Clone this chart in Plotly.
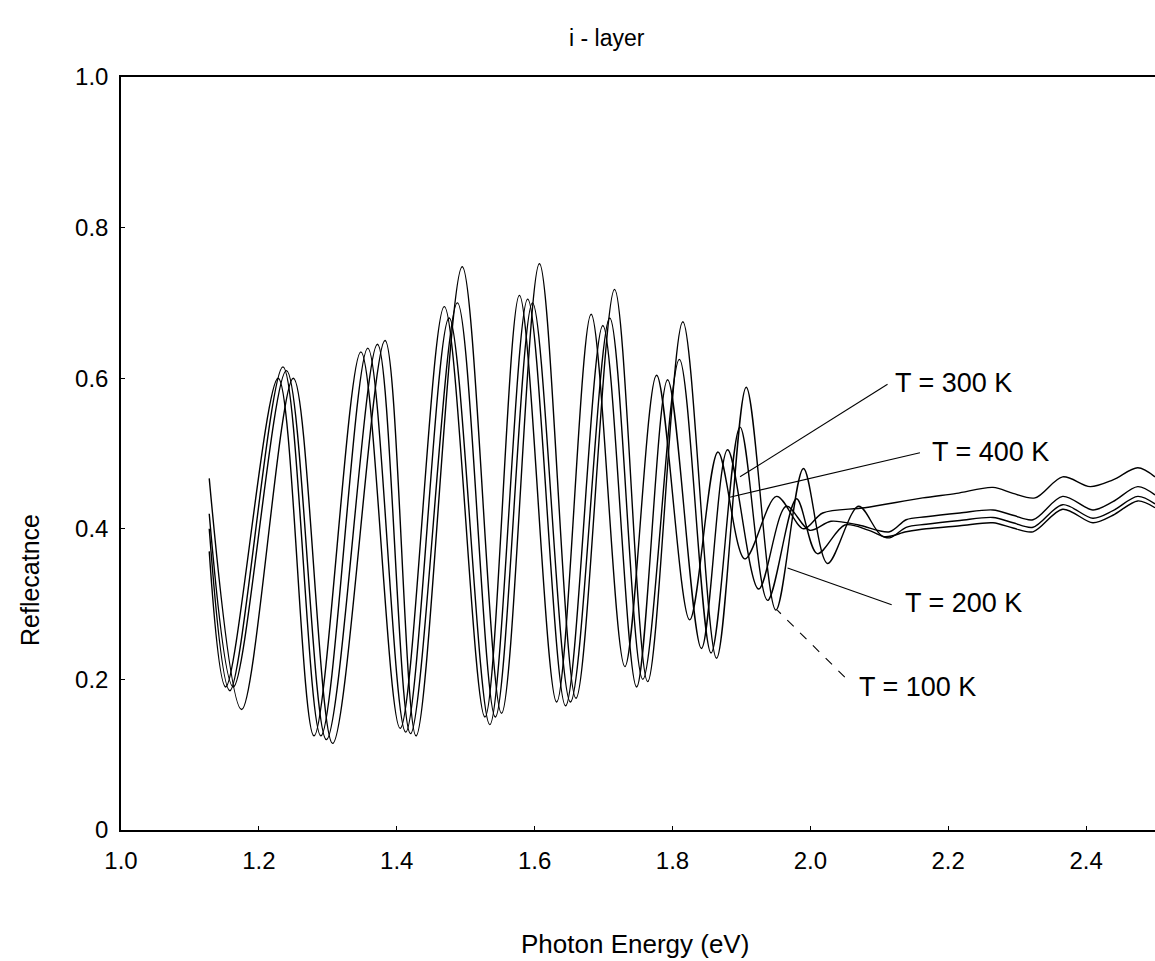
import plotly.graph_objects as go

# ---------------- data ----------------
x_400 = [1.128, 1.152, 1.228, 1.280, 1.348, 1.405, 1.469, 1.528, 1.578, 1.632, 1.682, 1.731,
         1.777, 1.825, 1.866, 1.905, 1.951, 1.990, 2.018, 2.079, 2.163, 2.212, 2.265, 2.294,
         2.326, 2.366, 2.406, 2.439, 2.475, 2.500]
y_400 = [0.370, 0.190, 0.600, 0.125, 0.635, 0.135, 0.695, 0.150, 0.710, 0.170, 0.685, 0.217,
         0.604, 0.279, 0.502, 0.360, 0.443, 0.400, 0.421, 0.428, 0.441, 0.447, 0.455, 0.447,
         0.441, 0.469, 0.456, 0.465, 0.481, 0.469]

x_300 = [1.128, 1.158, 1.235, 1.290, 1.358, 1.413, 1.476, 1.535, 1.590, 1.645, 1.699, 1.748,
         1.793, 1.842, 1.880, 1.925, 1.965, 1.999, 2.030, 2.070, 2.115, 2.139, 2.168, 2.217,
         2.265, 2.294, 2.323, 2.366, 2.410, 2.439, 2.475, 2.500]
y_300 = [0.400, 0.185, 0.615, 0.125, 0.640, 0.130, 0.680, 0.140, 0.705, 0.165, 0.670, 0.190,
         0.598, 0.241, 0.505, 0.320, 0.430, 0.398, 0.410, 0.405, 0.396, 0.412, 0.416, 0.421,
         0.425, 0.418, 0.412, 0.443, 0.425, 0.436, 0.456, 0.445]

x_200 = [1.128, 1.163, 1.240, 1.298, 1.372, 1.420, 1.488, 1.543, 1.597, 1.652, 1.709, 1.757,
         1.810, 1.856, 1.898, 1.938, 1.980, 2.010, 2.050, 2.085, 2.115, 2.139, 2.168, 2.217,
         2.265, 2.294, 2.323, 2.366, 2.410, 2.439, 2.475, 2.500]
y_200 = [0.420, 0.190, 0.610, 0.120, 0.645, 0.128, 0.700, 0.150, 0.700, 0.170, 0.680, 0.200,
         0.625, 0.235, 0.535, 0.305, 0.440, 0.367, 0.405, 0.398, 0.388, 0.402, 0.406, 0.411,
         0.415, 0.408, 0.402, 0.432, 0.414, 0.424, 0.443, 0.433]

x_100 = [1.128, 1.175, 1.250, 1.307, 1.383, 1.428, 1.495, 1.552, 1.607, 1.660, 1.716, 1.764,
         1.815, 1.864, 1.907, 1.950, 1.990, 2.025, 2.070, 2.105, 2.139, 2.168, 2.217, 2.265,
         2.294, 2.323, 2.366, 2.410, 2.439, 2.475, 2.500]
y_100 = [0.467, 0.160, 0.600, 0.115, 0.650, 0.125, 0.748, 0.155, 0.752, 0.175, 0.718, 0.197,
         0.675, 0.228, 0.588, 0.292, 0.480, 0.354, 0.430, 0.390, 0.396, 0.400, 0.404, 0.408,
         0.401, 0.396, 0.426, 0.408, 0.418, 0.437, 0.428]

x_ticks = [1.0, 1.2, 1.4, 1.6, 1.8, 2.0, 2.2, 2.4]
x_tick_text = ["1.0", "1.2", "1.4", "1.6", "1.8", "2.0", "2.2", "2.4"]
y_ticks = [0, 0.2, 0.4, 0.6, 0.8, 1.0]
y_tick_text = ["0", "0.2", "0.4", "0.6", "0.8", "1.0"]

label_text = ["T = 300 K", "T = 400 K", "T = 200 K", "T = 100 K"]
label_x = [2.120, 2.174, 2.134, 2.067]
label_y = [0.594, 0.502, 0.301, 0.190]
pointer_tail_x = [2.112, 2.159, 2.118, 2.050]
pointer_tail_y = [0.592, 0.501, 0.299, 0.203]
pointer_tip_x = [1.898, 1.883, 1.967, 1.952]
pointer_tip_y = [0.469, 0.442, 0.348, 0.292]
pointer_dash = ["solid", "solid", "solid", "dash"]

# ---------------- figure ----------------
FONT = "Liberation Sans, Arial, Helvetica, sans-serif"
fig = go.Figure()
for xs, ys in [(x_400, y_400), (x_300, y_300), (x_200, y_200), (x_100, y_100)]:
    fig.add_trace(go.Scatter(x=xs, y=ys, mode="lines",
                             line=dict(color="black", width=1.4, shape="spline", smoothing=0.9),
                             showlegend=False, hoverinfo="skip"))

for i in range(len(label_text)):
    fig.add_shape(type="line", xref="x", yref="y",
                  x0=pointer_tail_x[i], y0=pointer_tail_y[i],
                  x1=pointer_tip_x[i], y1=pointer_tip_y[i],
                  line=dict(color="black", width=1.1, dash=pointer_dash[i]))
    fig.add_annotation(x=label_x[i], y=label_y[i], xref="x", yref="y", text=label_text[i],
                       showarrow=False, xanchor="left", yanchor="middle",
                       font=dict(family=FONT, size=27, color="black"))

fig.add_annotation(x=0.47, y=1.0, xref="paper", yref="paper", yshift=39, yanchor="middle",
                   xanchor="center", text="i - layer", showarrow=False,
                   font=dict(family=FONT, size=23, color="black"))
fig.add_annotation(x=0.497, y=0, xref="paper", yref="paper", yshift=-114, yanchor="middle",
                   xanchor="center", text="Photon Energy (eV)", showarrow=False,
                   font=dict(family=FONT, size=26, color="black"))
fig.add_annotation(x=-0.088, y=0.332, xref="paper", yref="paper", xanchor="center",
                   yanchor="middle", text="Reflecatnce", textangle=-90,
                   showarrow=False, font=dict(family=FONT, size=25, color="black"))

fig.update_layout(
    width=1155, height=961,
    margin=dict(l=121, r=0, t=77, b=131),
    paper_bgcolor="white", plot_bgcolor="white",
    font=dict(family=FONT, size=24, color="black"),
    xaxis=dict(range=[1.0, 2.5], tickvals=x_ticks, ticktext=x_tick_text,
               showline=True, linecolor="black", linewidth=1.5, mirror=True,
               showgrid=False, zeroline=False, ticks="inside", ticklen=4, tickcolor="black",
               ticklabelstandoff=8),
    yaxis=dict(range=[0, 1.0], tickvals=y_ticks, ticktext=y_tick_text,
               showline=True, linecolor="black", linewidth=1.5,
               showgrid=False, zeroline=False, ticks="inside", ticklen=4, tickcolor="black",
               ticklabelstandoff=6),
)

fig.write_html("out.html")
